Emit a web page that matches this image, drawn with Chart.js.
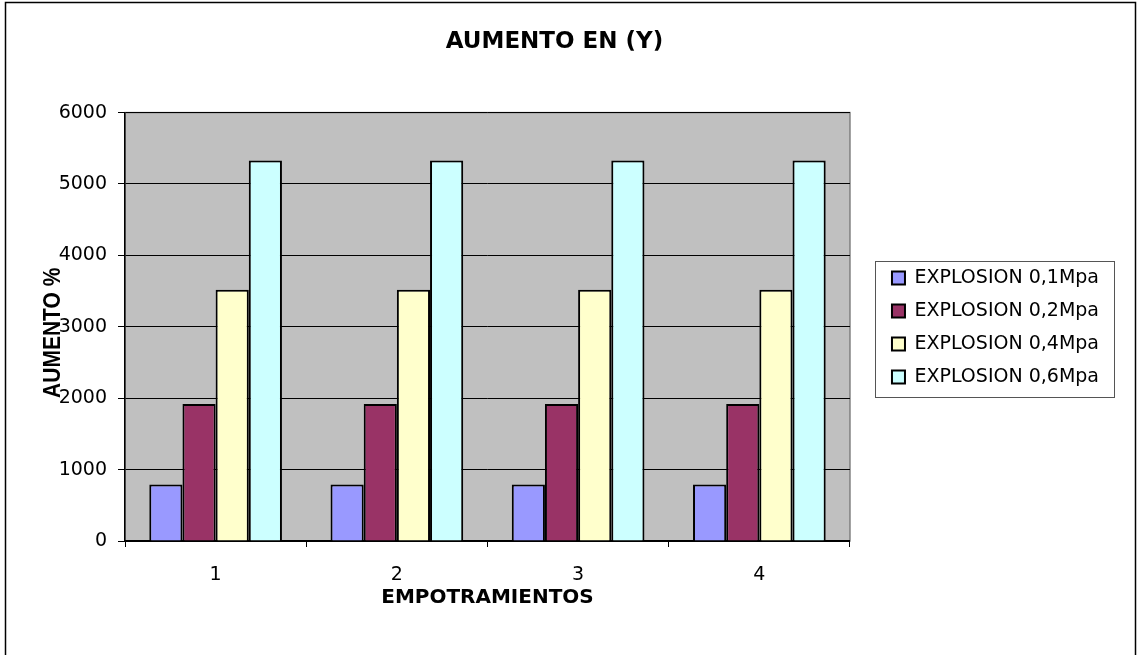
<!DOCTYPE html>
<html>
<head>
<meta charset="utf-8">
<script src="https://cdn.jsdelivr.net/npm/chart.js@4"></script>
<style>
  body { margin: 0; background: #fff; }
  #wrap { width: 1137px; height: 655px; }
</style>
</head>
<body>
<div id="wrap"><canvas id="chart" width="1137" height="655"></canvas></div>
<script>
// data
const categories = ['1', '2', '3', '4'];
const seriesNames = ['EXPLOSION 0,1Mpa', 'EXPLOSION 0,2Mpa', 'EXPLOSION 0,4Mpa', 'EXPLOSION 0,6Mpa'];
const explosion01 = [790, 790, 790, 790];
const explosion02 = [1920, 1920, 1920, 1920];
const explosion04 = [3520, 3520, 3520, 3520];
const explosion06 = [5330, 5330, 5330, 5330];
const yMin = 0;
const yMax = 6000;
const yStep = 1000;

const colors = ['#9999FF', '#993366', '#FFFFCC', '#CCFFFF'];
const seriesValues = [explosion01, explosion02, explosion04, explosion06];

const FONT = "'DejaVu Sans', sans-serif";

// grey plot area, outer frame, legend frame and the rotated y title
const decorPlugin = {
    id: 'decor',
    beforeDraw(chart) {
        const ctx = chart.ctx;
        const a = chart.chartArea;
        ctx.save();
        ctx.fillStyle = '#fff';
        ctx.fillRect(0, 0, chart.width, chart.height);
        // outer frame
        ctx.strokeStyle = '#000';
        ctx.lineWidth = 1.5;
        ctx.beginPath();
        ctx.moveTo(5.5, 700);
        ctx.lineTo(5.5, 2.5);
        ctx.lineTo(1135.5, 2.5);
        ctx.lineTo(1135.5, 700);
        ctx.stroke();
        // plot background
        ctx.fillStyle = '#C0C0C0';
        ctx.fillRect(a.left, a.top, a.right - a.left, a.bottom - a.top);
        ctx.strokeStyle = '#808080';
        ctx.lineWidth = 1.5;
        ctx.strokeRect(a.left, a.top, a.right - a.left, a.bottom - a.top);
        ctx.restore();
    },
    afterDraw(chart) {
        const ctx = chart.ctx;
        const a = chart.chartArea;
        ctx.save();
        // legend frame
        const boxes = chart.legend.legendHitBoxes;
        if (boxes && boxes.length) {
            let l = Infinity, t = Infinity, r = -Infinity, b = -Infinity;
            boxes.forEach(h => {
                l = Math.min(l, h.left); t = Math.min(t, h.top);
                r = Math.max(r, h.left + h.width); b = Math.max(b, h.top + h.height);
            });
            ctx.strokeStyle = '#555';
            ctx.lineWidth = 1;
            ctx.strokeRect(Math.round(l - 17) + 0.5, Math.round(t - 8) + 0.5, Math.round(r - l + 32), Math.round(b - t + 18));
        }
        // y axis title, overlapping the tick labels like the original
        ctx.translate(54, (a.top + a.bottom) / 2 + 6);
        ctx.rotate(-Math.PI / 2);
        ctx.scale(1, 1.12);
        ctx.font = "bold 21px 'Liberation Sans', Arial, sans-serif";
        ctx.fillStyle = '#000';
        ctx.textAlign = 'center';
        ctx.textBaseline = 'middle';
        ctx.fillText('AUMENTO %', 0, 0);
        ctx.restore();
    }
};

new Chart(document.getElementById('chart'), {
    type: 'bar',
    data: {
        labels: categories,
        datasets: seriesNames.map((name, i) => ({
            label: name,
            data: seriesValues[i],
            backgroundColor: colors[i],
            borderColor: '#000',
            borderWidth: 2,
            categoryPercentage: 0.732,
            barPercentage: 1.0
        }))
    },
    options: {
        responsive: false,
        animation: false,
        layout: { padding: { left: 0, right: 28, top: 0, bottom: 0 } },
        plugins: {
            title: {
                display: true,
                text: 'AUMENTO EN (Y)',
                color: '#000',
                font: { family: FONT, size: 23, weight: 'bold' },
                padding: { top: 28, bottom: 57 }
            },
            legend: {
                position: 'right',
                maxWidth: 400,
                labels: {
                    color: '#000',
                    font: { family: FONT, size: 19 },
                    boxWidth: 13,
                    boxHeight: 13,
                    padding: 14
                }
            },
            tooltip: { enabled: false }
        },
        scales: {
            x: {
                grid: {
                    display: true,
                    drawOnChartArea: false,
                    offset: true,
                    color: '#000',
                    tickLength: 6
                },
                border: { color: '#000', width: 1.5 },
                ticks: {
                    color: '#000',
                    font: { family: FONT, size: 19 },
                    padding: 17
                },
                title: {
                    display: true,
                    text: 'EMPOTRAMIENTOS',
                    color: '#000',
                    font: { family: FONT, size: 20, weight: 'bold' },
                    padding: { top: 0, bottom: 45 }
                },
                afterFit(scale) { scale.height = 114; }
            },
            y: {
                min: yMin,
                max: yMax,
                grid: {
                    color: '#000',
                    lineWidth: 1,
                    tickLength: 7
                },
                border: { color: '#000', width: 1.5 },
                ticks: {
                    stepSize: yStep,
                    color: '#000',
                    font: { family: FONT, size: 19 },
                    padding: 11,
                    callback: v => String(v)
                },
                afterFit(scale) { scale.width = 125; }
            },
            // empty spacer between the plot and the legend
            gap: {
                type: 'linear',
                position: 'right',
                display: true,
                grid: { display: false },
                border: { display: false },
                ticks: { display: false },
                afterFit(scale) { scale.width = 28; }
            }
        }
    },
    plugins: [decorPlugin]
});
</script>
</body>
</html>
